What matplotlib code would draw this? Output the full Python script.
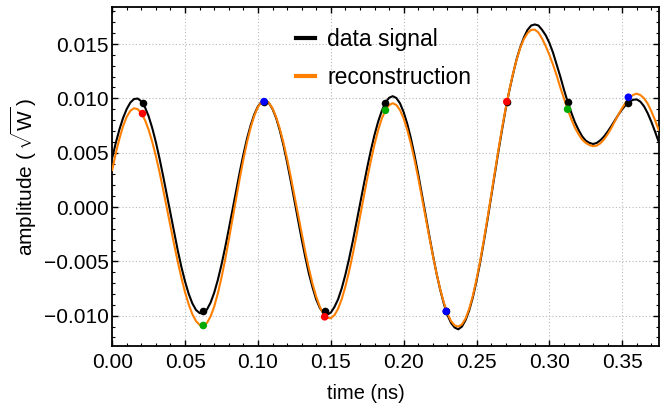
import numpy as np
import matplotlib
matplotlib.use("Agg")
import matplotlib.pyplot as plt
from matplotlib.lines import Line2D
from matplotlib.ticker import MultipleLocator, FuncFormatter

plt.rcParams['font.family'] = ['Liberation Sans', 'DejaVu Sans']
plt.rcParams['mathtext.fontset'] = 'custom'
plt.rcParams['mathtext.rm'] = 'Liberation Sans'

# time grid of the traces (ns), one value every 0.0025 ns
time_ns = np.linspace(0.0, 0.375, 151)

# amplitudes (sqrt W)
data_signal = [
    0.00452, 0.00592, 0.00716, 0.00821, 0.00903, 0.00962, 0.00994, 0.00998, 0.00973, 0.00918,
    0.00835, 0.00726, 0.00595, 0.00445, 0.00282, 0.00111, -0.00063, -0.00236, -0.00400, -0.00552,
    -0.00686, -0.00799, -0.00887, -0.00947, -0.00976, -0.00976, -0.00943, -0.00880, -0.00788, -0.00670,
    -0.00530, -0.00373, -0.00204, -0.00028, 0.00148, 0.00320, 0.00482, 0.00629, 0.00752, 0.00853,
    0.00926, 0.00969, 0.00980, 0.00958, 0.00903, 0.00818, 0.00705, 0.00569, 0.00412, 0.00242,
    0.00064, -0.00117, -0.00295, -0.00461, -0.00614, -0.00740, -0.00851, -0.00929, -0.00976, -0.00990,
    -0.00972, -0.00920, -0.00849, -0.00748, -0.00623, -0.00479, -0.00321, -0.00152, 0.00022, 0.00196,
    0.00364, 0.00522, 0.00664, 0.00786, 0.00885, 0.00960, 0.01005, 0.01020, 0.01003, 0.00954,
    0.00873, 0.00764, 0.00630, 0.00474, 0.00303, 0.00119, -0.00068, -0.00256, -0.00437, -0.00607,
    -0.00757, -0.00886, -0.00992, -0.01066, -0.01109, -0.01125, -0.01100, -0.01040, -0.00950, -0.00830,
    -0.00680, -0.00510, -0.00320, -0.00120, 0.00090, 0.00300, 0.00510, 0.00710, 0.00900, 0.01070,
    0.01220, 0.01360, 0.01470, 0.01560, 0.01630, 0.01670, 0.01680, 0.01670, 0.01630, 0.01580,
    0.01510, 0.01420, 0.01310, 0.01200, 0.01080, 0.00970, 0.00870, 0.00780, 0.00710, 0.00650,
    0.00610, 0.00590, 0.00580, 0.00590, 0.00614, 0.00649, 0.00694, 0.00745, 0.00799, 0.00852,
    0.00900, 0.00941, 0.00970, 0.00987, 0.00990, 0.00969, 0.00926, 0.00862, 0.00783, 0.00694,
    0.00600,
]

reconstruction = [
    0.00340, 0.00498, 0.00631, 0.00746, 0.00831, 0.00886, 0.00909, 0.00900, 0.00864, 0.00800,
    0.00711, 0.00598, 0.00467, 0.00319, 0.00158, -0.00009, -0.00178, -0.00345, -0.00504, -0.00652,
    -0.00785, -0.00896, -0.00986, -0.01049, -0.01085, -0.01093, -0.01067, -0.01007, -0.00916, -0.00794,
    -0.00649, -0.00484, -0.00302, -0.00114, 0.00077, 0.00262, 0.00437, 0.00596, 0.00731, 0.00840,
    0.00921, 0.00968, 0.00980, 0.00959, 0.00908, 0.00828, 0.00721, 0.00593, 0.00444, 0.00281,
    0.00108, -0.00068, -0.00243, -0.00412, -0.00567, -0.00707, -0.00825, -0.00918, -0.00984, -0.01019,
    -0.01023, -0.00995, -0.00936, -0.00848, -0.00732, -0.00595, -0.00439, -0.00269, -0.00092, 0.00087,
    0.00262, 0.00426, 0.00577, 0.00707, 0.00813, 0.00891, 0.00938, 0.00955, 0.00939, 0.00892,
    0.00814, 0.00709, 0.00580, 0.00431, 0.00267, 0.00090, -0.00090, -0.00271, -0.00444, -0.00607,
    -0.00752, -0.00876, -0.00977, -0.01049, -0.01090, -0.01100, -0.01080, -0.01025, -0.00935, -0.00815,
    -0.00665, -0.00495, -0.00305, -0.00105, 0.00105, 0.00315, 0.00525, 0.00725, 0.00905, 0.01075,
    0.01225, 0.01355, 0.01465, 0.01545, 0.01600, 0.01630, 0.01632, 0.01605, 0.01550, 0.01480,
    0.01400, 0.01310, 0.01210, 0.01100, 0.01000, 0.00900, 0.00810, 0.00730, 0.00670, 0.00620,
    0.00590, 0.00570, 0.00560, 0.00565, 0.00586, 0.00622, 0.00670, 0.00727, 0.00790, 0.00853,
    0.00913, 0.00965, 0.01006, 0.01032, 0.01043, 0.01030, 0.01000, 0.00950, 0.00880, 0.00800,
    0.00710,
]

# sampling instants and sampled values
sample_times = [0.0208, 0.0625, 0.1042, 0.1458, 0.1875, 0.2292, 0.2708, 0.3125, 0.3542]
sample_data = [0.0096, -0.0096, 0.0097, -0.0096, 0.0096, -0.0096, 0.0097, 0.0097, 0.0096]
sample_recon = [0.0086, -0.0109, 0.0097, -0.0101, 0.0089, -0.0096, 0.0097, 0.0090, 0.0101]
sample_colors = ['#ff0000', '#00aa00', '#0000ff'] * 3

legend_labels = ['data signal', 'reconstruction']

fig = plt.figure(figsize=(6.6, 4.07), dpi=100)
ax = fig.add_axes([0.170, 0.1506, 0.828, 0.8314])

ax.plot(time_ns, data_signal, color='black', lw=1.5, zorder=3)
ax.plot(time_ns, reconstruction, color='#ff8000', lw=1.5, zorder=3)
ax.scatter(sample_times, sample_data, s=30, color='black', linewidths=0, zorder=4)
ax.scatter(sample_times, sample_recon, s=30, c=sample_colors, linewidths=0, zorder=5)

ax.set_xlim(0.0, 0.375)
ax.set_ylim(-0.01276, 0.018375)

ax.xaxis.set_major_locator(MultipleLocator(0.05))
ax.xaxis.set_minor_locator(MultipleLocator(0.01))
ax.yaxis.set_major_locator(MultipleLocator(0.005))
ax.yaxis.set_minor_locator(MultipleLocator(0.001))
ax.xaxis.set_major_formatter(FuncFormatter(lambda v, p: f"{v:.2f}".replace('-', '\u2212')))
ax.yaxis.set_major_formatter(FuncFormatter(lambda v, p: f"{v:.3f}".replace('-', '\u2212')))

ax.tick_params(which='both', direction='in', top=True, right=True, color='black')
ax.tick_params(which='major', length=4, width=1.0, labelsize=15)
ax.tick_params(which='minor', length=2.2, width=0.8)
ax.tick_params(axis='x', which='major', pad=5)
ax.tick_params(axis='y', which='major', pad=2.5)

for sp in ax.spines.values():
    sp.set_linewidth(1.3)
    sp.set_color('black')

ax.grid(which='major', color='#b8b8b8', linestyle=(0, (1, 2)), lw=0.8)
ax.set_axisbelow(True)

ax.set_xlabel('time (ns)', fontsize=14.4)
ax.set_ylabel(r'amplitude ($\,\sqrt{\mathrm{W}}\,$)', fontsize=15)
ax.xaxis.set_label_coords(0.4645, -0.112)
ax.yaxis.set_label_coords(-0.134, 0.5)

handles = [Line2D([], [], color='black', lw=3),
           Line2D([], [], color='#ff8000', lw=3)]
ax.legend(handles, legend_labels, loc='upper left', bbox_to_anchor=(0.337, 0.94),
          frameon=False, fontsize=16.5, handlelength=0.8, handletextpad=0.55,
          labelspacing=0.68, borderpad=0, borderaxespad=0)

fig.savefig('out.png', dpi=100)
